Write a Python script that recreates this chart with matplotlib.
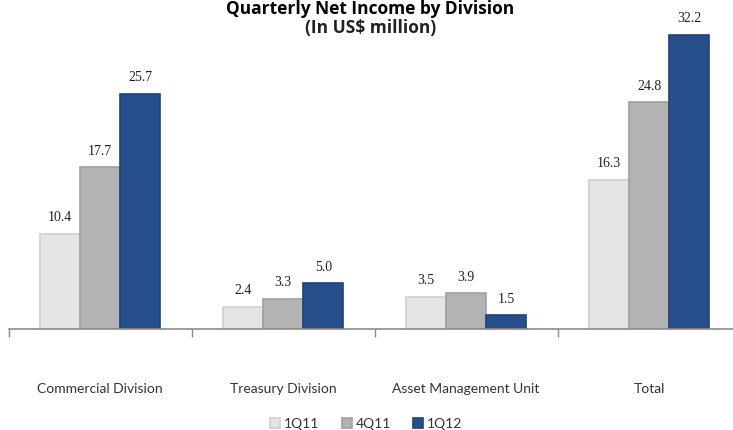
import numpy as np
import matplotlib.pyplot as plt

# Данные
divisions = ['Commercial Division', 'Treasury Division', 'Asset Management Unit', 'Total']
quarters = ['1Q11', '4Q11', '1Q12']
q1_11 = [10.4, 2.4, 3.5, 16.3]
q4_11 = [17.7, 3.3, 3.9, 24.8]
q1_12 = [25.7, 5.0, 1.5, 32.2]

colors = ['#e4e4e4', '#b3b3b3', '#264f8c']
edges = ['#cfcfcf', '#a0a0a0', '#1f4478']

fig = plt.figure(figsize=(7.33, 4.30), dpi=100)
ax = fig.add_axes([8.5 / 733, 101 / 430, 732 / 733, 329 / 430])

x = np.arange(len(divisions))
w = 0.22
for i, (vals, c, ec) in enumerate(zip([q1_11, q4_11, q1_12], colors, edges)):
    bars = ax.bar(x + (i - 1) * w, vals, w, color=c, edgecolor=ec, linewidth=1.2,
                  label=quarters[i], zorder=2)
    for b, v in zip(bars, vals):
        ax.annotate(f'{v:.1f}', (b.get_x() + b.get_width() / 2, v),
                    xytext=(0, 7), textcoords='offset points', ha='center', va='bottom',
                    fontsize=10, family='Liberation Serif', color='#222222')

ax.set_xlim(-0.5, 3.5)
ax.set_ylim(0, 36)
ax.set_yticks([])
for s in ['top', 'right', 'left']:
    ax.spines[s].set_visible(False)
ax.spines['bottom'].set_color('#8c8c8c')
ax.spines['bottom'].set_linewidth(1.2)
ax.set_xticks(np.arange(-0.5, 4, 1))
ax.set_xticklabels([])
ax.tick_params(axis='x', length=6, color='#8c8c8c', width=1)

# подписи категорий
for xi, name in zip(x, divisions):
    ax.text(xi, -60 / 329, name, transform=ax.get_xaxis_transform(),
            ha='center', va='center', fontsize=10, family='Lato', color='#333333')

fig.text(0.505, 0.999, 'Quarterly Net Income by Division', ha='center', va='top',
         fontsize=12.5, fontweight='bold', family='Open Sans')
fig.text(0.505, 0.935, '(In US$ million)', ha='center', va='center',
         fontsize=12.5, fontweight='bold', family='Open Sans', color='#222222')

leg = fig.legend(loc='center', bbox_to_anchor=(0.5, 0.015), ncol=3, frameon=False,
                 handlelength=0.7, handleheight=0.7, handletextpad=0.3, columnspacing=1.6,
                 prop={'family': 'Lato', 'size': 10})
for t in leg.get_texts():
    t.set_color('#333333')

fig.savefig('out.png', dpi=100)
